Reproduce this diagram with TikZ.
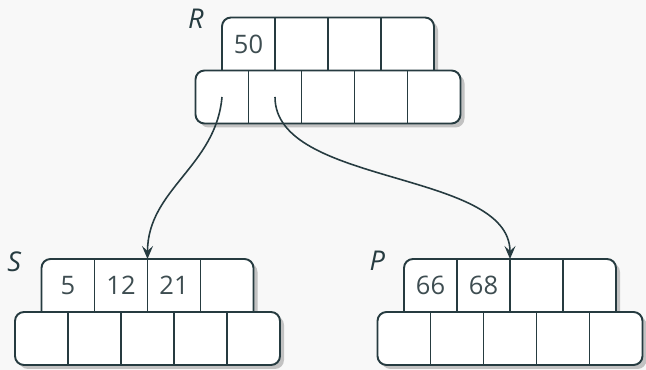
\documentclass[tikz,border=0pt]{standalone}
\usepackage{fontspec}
\setmainfont{Open Sans}
\usetikzlibrary{arrows.meta,shadows}

\definecolor{pageink}{HTML}{263B40}
\definecolor{keyink}{HTML}{3E4D51}
\definecolor{canvas}{HTML}{F8F8F8}
\definecolor{shade}{HTML}{C2C2C2}

\tikzset{
  rowframe/.style={draw=pageink, line width=1.1pt, fill=white, rounded corners=0.18cm,
    drop shadow={shadow xshift=0.08cm, shadow yshift=-0.08cm, fill=shade, opacity=1}},
  keycell/.style={minimum width=1.06cm, minimum height=1.06cm, inner sep=0pt, outer sep=0pt,
    anchor=south west, text=keyink, font=\fontsize{14.5}{16}\selectfont},
  ptrcell/.style={minimum width=1.06cm, minimum height=1.06cm, inner sep=0pt, outer sep=0pt,
    anchor=north west},
  divider/.style={draw=pageink, line width=1.1pt},
  pagelabel/.style={anchor=base east, inner sep=0pt, text=pageink,
    font=\itshape\fontsize{15.5}{18}\selectfont},
  childlink/.style={draw=pageink, line width=0.9pt,
    -{Stealth[length=2.6mm, width=2.2mm, inset=1mm]}},
}

\begin{document}
\begin{tikzpicture}
  % canvas, same size as the reference
  \path[use as bounding box, fill=canvas] (0,0) rectangle (12.92,7.4);

  % pages: name / left x / y of the line between keys and pointers / keys
  \foreach \pg/\px/\py/\keys in {R/3.91/5.99/{50,{},{},{}},
                                 S/0.30/1.16/{5,12,21,{}},
                                 P/7.55/1.16/{66,68,{},{}}} {
    % key row first, pointer row on top of its lower part
    \draw[rowframe] (\px+0.53,\py-0.4) rectangle ++(4.24,1.46);
    \draw[rowframe] (\px,\py-1.06) rectangle ++(5.3,1.06);

    \foreach \k [count=\i] in \keys
      \node[keycell] (\pg-k\i) at (\px+0.53+\i*1.06-1.06,\py) {\k};
    \foreach \i in {1,...,5}
      \node[ptrcell] (\pg-p\i) at (\px+\i*1.06-1.06,\py) {};

    \foreach \i in {1,2,3}
      \draw[divider] (\pg-k\i.north east) -- (\pg-k\i.south east);
    \foreach \i in {1,...,4}
      \draw[divider] (\pg-p\i.north east) -- (\pg-p\i.south east);
  }

  % page names
  \node[pagelabel, xshift=-0.36cm, yshift=-0.23cm] (R-tag) at (R-k1.north west) {R};
  \node[pagelabel, xshift=-0.40cm, yshift=-0.25cm] (S-tag) at (S-k1.north west) {S};
  \node[pagelabel, xshift=-0.37cm, yshift=-0.24cm] (P-tag) at (P-k1.north west) {P};

  % child pointers
  \draw[childlink] (R-p1.center) to[out=-95,in=90] (S-k2.north east);
  \draw[childlink] (R-p2.center) to[out=-90,in=90,looseness=0.8] (P-k2.north east);
\end{tikzpicture}
\end{document}
